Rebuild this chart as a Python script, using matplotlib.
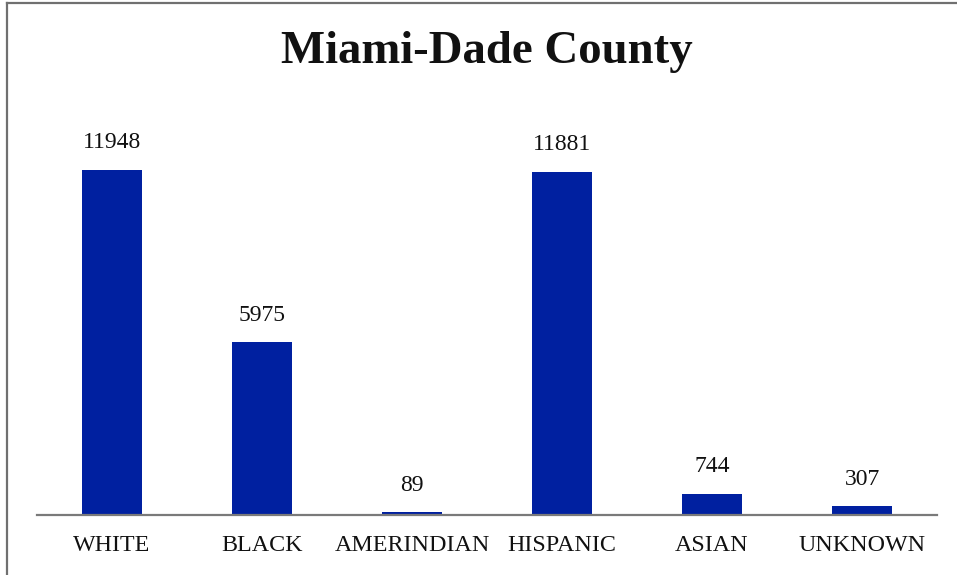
import matplotlib
matplotlib.use("Agg")
import matplotlib.pyplot as plt
from matplotlib.lines import Line2D

categories = ["WHITE", "BLACK", "AMERINDIAN", "HISPANIC", "ASIAN", "UNKNOWN"]
values = [11948, 5975, 89, 11881, 744, 307]
title = "Miami-Dade County"

plt.rcParams['font.family'] = ['Liberation Serif', 'DejaVu Serif']

W, H = 957, 575
fig = plt.figure(figsize=(W / 100, H / 100), dpi=100)
ax = fig.add_axes([37 / W, 60 / H, 900 / W, 404.3 / H])

x = list(range(len(categories)))
bars = ax.bar(x, values, width=0.405, color="#0020A0")
ax.set_xlim(-0.5, len(categories) - 0.5)
ax.set_ylim(0, 14000)

for xi, v in zip(x, values):
    ax.annotate(str(v), (xi, v), xytext=(0, 15.5), textcoords="offset points",
                ha="center", va="baseline", fontsize=17, color="#111111")

ax.set_xticks(x)
ax.set_xticklabels(categories, fontsize=17.3, color="#111111")
ax.tick_params(axis="x", length=0, pad=14.5)
ax.set_yticks([])
for s in ["top", "right", "left"]:
    ax.spines[s].set_visible(False)
ax.spines["bottom"].set_color("#7a7a7a")
ax.spines["bottom"].set_linewidth(1.6)

fig.text(487 / W, 1 - 52 / H, title, ha="center", va="center",
         fontsize=33.7, fontweight="bold", color="#111111")

# partial border (left and top)
fig.add_artist(Line2D([6.5 / W, 6.5 / W], [0, 1 - 2.5 / H], transform=fig.transFigure,
                      color="#707070", linewidth=1.6))
fig.add_artist(Line2D([6.5 / W, 1], [1 - 2.5 / H, 1 - 2.5 / H], transform=fig.transFigure,
                      color="#707070", linewidth=1.6))

fig.savefig("out.png", dpi=100)
